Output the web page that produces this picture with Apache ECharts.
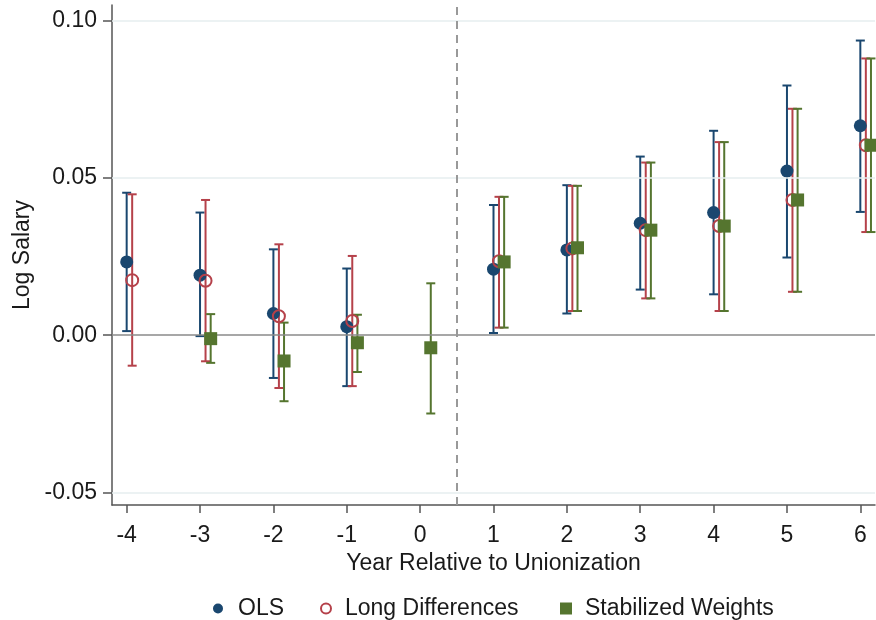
<!DOCTYPE html>
<html><head><meta charset="utf-8">
<script src="https://cdn.jsdelivr.net/npm/echarts@6/dist/echarts.min.js"></script>
<style>html,body{margin:0;padding:0;background:#fff}#c{width:876px;height:620px}</style>
</head><body><div id="c"></div>
<script>
const years = [-4,-3,-2,-1,0,1,2,3,4,5,6];
const olsEst = [0.0233,0.0191,0.0069,0.0027,null,0.0210,0.0271,0.0356,0.0390,0.0522,0.0666];
const olsLo  = [0.0013,-0.0003,-0.0136,-0.0162,null,0.0007,0.0069,0.0145,0.0130,0.0247,0.0392];
const olsHi  = [0.0453,0.0390,0.0273,0.0212,null,0.0414,0.0477,0.0568,0.0650,0.0794,0.0937];
const ldEst  = [0.0175,0.0173,0.0060,0.0045,null,0.0235,0.0276,0.0334,0.0347,0.0430,0.0604];
const ldLo   = [-0.0097,-0.0083,-0.0168,-0.0162,null,0.0024,0.0077,0.0117,0.0077,0.0138,0.0328];
const ldHi   = [0.0448,0.0430,0.0289,0.0252,null,0.0440,0.0475,0.0549,0.0614,0.0720,0.0880];
const swEst  = [null,-0.0011,-0.0082,-0.0024,-0.0040,0.0233,0.0278,0.0334,0.0347,0.0430,0.0604];
const swLo   = [null,-0.0088,-0.0210,-0.0117,-0.0249,0.0024,0.0077,0.0117,0.0077,0.0138,0.0328];
const swHi   = [null,0.0067,0.0040,0.0065,0.0165,0.0440,0.0475,0.0549,0.0614,0.0720,0.0880];
const yTicks = [-0.05,0,0.05,0.10];
const xTicks = years;
const names = ['OLS','Long Differences','Stabilized Weights'];

const C_OLS='#1a476f', C_LD='#b5414a', C_SW='#55752f';
const OFF = [0, 0.075, 0.145];
const FONT = 'Liberation Sans, Arial, sans-serif';
const FS = 23;
const TXT = '#1a1a1a';

function pts(est, off){ const r=[]; years.forEach((y,i)=>{ if(est[i]!==null) r.push([y+off, est[i]]); }); return r; }
function bars(lo, hi){ const r=[]; years.forEach((y,i)=>{ if(lo[i]!==null) r.push([y, lo[i], hi[i]]); }); return r; }
function errRender(color, off){
  return function(params, api){
    const x = api.value(0)+off;
    const a = api.coord([x, api.value(1)]);
    const b = api.coord([x, api.value(2)]);
    const hw = 4.5;
    const style = {stroke: color, lineWidth: 2, fill: null};
    return {type:'group', children:[
      {type:'line', shape:{x1:a[0],y1:a[1],x2:b[0],y2:b[1]}, style:style},
      {type:'line', shape:{x1:a[0]-hw,y1:a[1],x2:a[0]+hw,y2:a[1]}, style:style},
      {type:'line', shape:{x1:b[0]-hw,y1:b[1],x2:b[0]+hw,y2:b[1]}, style:style}
    ]};
  };
}
function errSeries(name, lo, hi, color, off){
  return {type:'custom', name:name+' CI', renderItem: errRender(color, off), data: bars(lo,hi), encode:{x:0,y:[1,2]}, z:3, silent:true};
}
function leg(name, icon, left, size, pad){
  return {data:[{name:name, icon:icon}], left:left, top:592, itemWidth:size, itemHeight:size,
    textStyle:{fontSize:FS, color:TXT, fontFamily:FONT, padding:[0,0,0,pad]}};
}

const chart = echarts.init(document.getElementById('c'), null, {renderer:'canvas'});
const option = {
  animation:false,
  backgroundColor:'#fff',
  textStyle:{fontFamily:FONT},
  grid:{left:112, right:1, top:5, bottom:115},
  xAxis:{type:'value', min:-4.2, max:6.2,
    name:'Year Relative to Unionization', nameLocation:'middle', nameGap:39,
    nameTextStyle:{fontSize:FS, color:TXT, fontFamily:FONT},
    axisLine:{show:true, onZero:false, lineStyle:{color:'#555', width:1.5}},
    axisTick:{show:true, length:8, customValues:xTicks, lineStyle:{color:'#555', width:1.5}},
    axisLabel:{customValues:xTicks, fontSize:FS, color:TXT, margin:19, fontFamily:FONT},
    splitLine:{show:false}},
  yAxis:{type:'value', min:-0.054, max:0.105,
    name:'Log Salary', nameLocation:'middle', nameGap:78,
    nameTextStyle:{fontSize:FS, color:TXT, fontFamily:FONT},
    axisLine:{show:true, onZero:false, lineStyle:{color:'#555', width:1.5}},
    axisTick:{show:true, length:9, customValues:yTicks, lineStyle:{color:'#555', width:1.5}},
    axisLabel:{customValues:yTicks, fontSize:FS, color:TXT, margin:15, fontFamily:FONT, formatter:v=>v.toFixed(2)},
    splitLine:{show:false}},
  legend:[
    leg(names[0], 'circle', 208, 10, 10),
    leg(names[1], 'circle', 315, 10, 9),
    leg(names[2], 'rect', 555, 12, 8)
  ],
  series:[
    {type:'line', name:'ref', data:[], silent:true, z:1,
      markLine:{silent:true, symbol:'none', label:{show:false}, animation:false,
        data:[
          ...yTicks.filter(v=>v!==0).map(v=>({yAxis:v, lineStyle:{color:'#e6eeef', width:1.5, type:'solid'}})),
          {yAxis:0, lineStyle:{color:'#8a8a8a', width:1.5, type:'solid'}},
          {xAxis:0.5, lineStyle:{color:'#999', width:2, type:[8,6]}}
        ]}},
    errSeries(names[0], olsLo, olsHi, C_OLS, OFF[0]),
    {type:'scatter', name:names[0], data:pts(olsEst, OFF[0]), symbol:'circle', symbolSize:13, itemStyle:{color:C_OLS, opacity:1}, z:4},
    errSeries(names[1], ldLo, ldHi, C_LD, OFF[1]),
    {type:'scatter', name:names[1], data:pts(ldEst, OFF[1]), symbol:'circle', symbolSize:12, itemStyle:{color:'rgba(255,255,255,0)', borderColor:C_LD, borderWidth:2, opacity:1}, z:5},
    errSeries(names[2], swLo, swHi, C_SW, OFF[2]),
    {type:'scatter', name:names[2], data:pts(swEst, OFF[2]), symbol:'rect', symbolSize:13, itemStyle:{color:C_SW, opacity:1}, z:6}
  ]
};
chart.setOption(option);
</script></body></html>
